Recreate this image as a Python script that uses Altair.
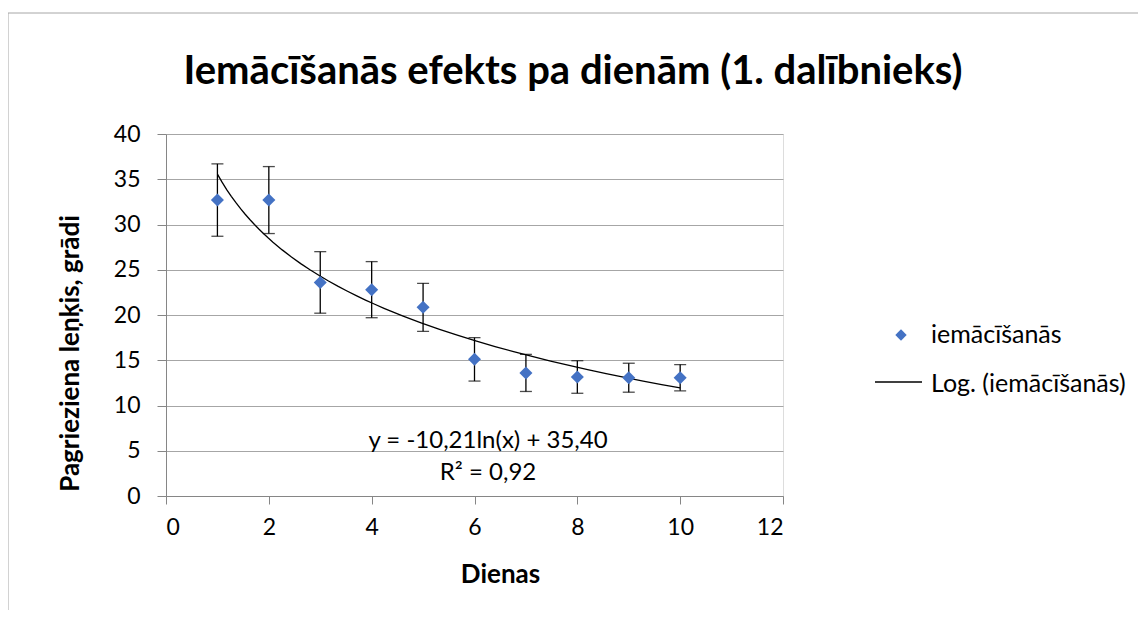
import altair as alt
import pandas as pd

days = [1, 2, 3, 4, 5, 6, 7, 8, 9, 10]
values = [32.7, 32.7, 23.6, 22.8, 20.85, 15.1, 13.6, 13.15, 13.07, 13.07]
errors = [4.0, 3.7, 3.4, 3.1, 2.65, 2.4, 2.05, 1.8, 1.6, 1.45]

series_name = "iemācīšanās"
trend_name = "Log. (iemācīšanās)"
title_text = "Iemācīšanās efekts pa dienām (1. dalībnieks)"
equation_text = "y = -10,21ln(x) + 35,40"
r2_text = "R² = 0,92"

df = pd.DataFrame({
    "day": days,
    "value": values,
    "lo": [v - e for v, e in zip(values, errors)],
    "hi": [v + e for v, e in zip(values, errors)],
})

FONT = "Lato"
W, H = 617, 362
BLUE = "#4472C4"
LBL = 23

xs = alt.Scale(domain=[0, 12], nice=False)
ys = alt.Scale(domain=[0, 40], nice=False)

base = alt.Chart(df)

x_axis = alt.Axis(values=[0, 2, 4, 6, 8, 10, 12], title="Dienas", grid=False,
                  labelFontSize=LBL, titleFontSize=26, titleFontWeight="bold",
                  labelPadding=12, tickSize=8,
                  titleX=334, titleY=86, titleBaseline="alphabetic", titleAlign="center",
                  domainColor="#868686", tickColor="#868686", labelColor="#000000",
                  titleColor="#000000", labelFont=FONT, titleFont=FONT)
y_axis = alt.Axis(values=[0, 5, 10, 15, 20, 25, 30, 35, 40],
                  title="Pagrieziena leņķis, grādi", grid=True, gridColor="#A6A6A6",
                  labelFontSize=LBL, titleFontSize=26, titleFontWeight="bold",
                  labelPadding=17, tickSize=9,
                  titleX=-88, titleY=219, titleAngle=-90, titleBaseline="alphabetic",
                  titleAlign="center",
                  domainColor="#868686", tickColor="#868686", labelColor="#000000",
                  titleColor="#000000", labelFont=FONT, titleFont=FONT)

bars = base.mark_rule(color="#000000", strokeWidth=1.3).encode(
    x=alt.X("day:Q", scale=xs, axis=x_axis),
    y=alt.Y("lo:Q", scale=ys, axis=y_axis),
    y2="hi:Q",
)
cap_lo = base.mark_tick(color="#000000", thickness=1.3, size=12, orient="horizontal").encode(
    x=alt.X("day:Q", scale=xs), y=alt.Y("lo:Q", scale=ys))
cap_hi = base.mark_tick(color="#000000", thickness=1.3, size=12, orient="horizontal").encode(
    x=alt.X("day:Q", scale=xs), y=alt.Y("hi:Q", scale=ys))

points = base.mark_point(shape="diamond", filled=True, color=BLUE, size=170, opacity=1).encode(
    x=alt.X("day:Q", scale=xs), y=alt.Y("value:Q", scale=ys))

trend = base.transform_regression(
    "day", "value", method="log", extent=[1, 10]
).mark_line(color="#000000", strokeWidth=1.3).encode(
    x=alt.X("day:Q", scale=xs), y=alt.Y("value:Q", scale=ys))

one = alt.Chart(pd.DataFrame({"a": [0]}))

def txt(s, x, y, size, align="center", weight="normal"):
    return one.mark_text(fontSize=size, font=FONT, fontWeight=weight, color="#000000",
                         align=align, baseline="alphabetic").encode(
        x=alt.value(x), y=alt.value(y), text=alt.value(s))

eq = txt(equation_text, 322, 314, 24)
r2 = txt(r2_text, 322, 346, 24)

leg_pt = one.mark_point(shape="diamond", filled=True, color=BLUE, size=130, opacity=1).encode(
    x=alt.value(735), y=alt.value(201))
leg_txt1 = txt(series_name, 765, 209, 25, align="left")
leg_line = one.mark_rule(color="#000000", strokeWidth=1.3).encode(
    x=alt.value(709), x2=alt.value(756), y=alt.value(248))
leg_txt2 = txt(trend_name, 765, 258, 25, align="left")

title = txt(title_text, 407, -50, 40, weight="bold")

border = one.mark_rect(fill=None, stroke="#A6A6A6", strokeWidth=1).encode(
    x=alt.value(-158), x2=alt.value(1000), y=alt.value(-121), y2=alt.value(520))

chart = alt.layer(
    border, bars, cap_lo, cap_hi, trend, points, eq, r2,
    leg_pt, leg_txt1, leg_line, leg_txt2, title
).properties(
    width=W, height=H,
    autosize=alt.AutoSizeParams(type="none"),
    padding={"left": 158, "top": 126, "right": 355, "bottom": 114},
).configure_view(stroke=None).configure(background="#FFFFFF")

chart.save("out.html", embed_options={"renderer": "svg", "actions": False})
